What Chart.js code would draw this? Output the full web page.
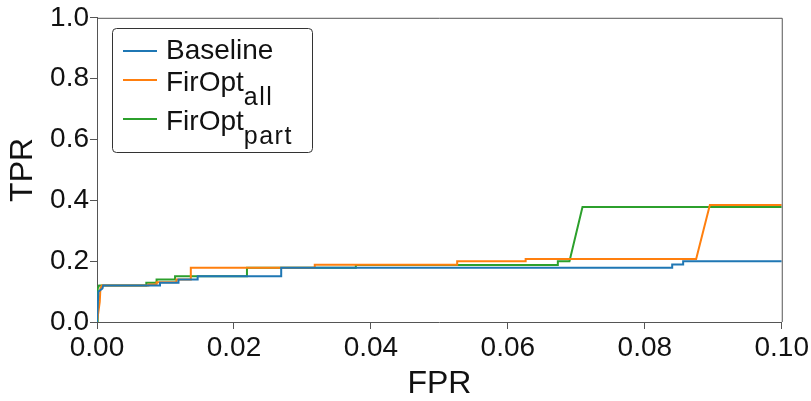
<!DOCTYPE html>
<html lang="en">
<head>
  <meta charset="UTF-8">
  <title>ROC (low FPR)</title>
  <style>
    html, body { margin: 0; padding: 0; background: #fff; }
    #wrap { width: 811px; height: 401px; }
  </style>
</head>
<body>
  <div id="wrap"><canvas id="roc" width="811" height="401"></canvas></div>
  <script src="https://cdn.jsdelivr.net/npm/chart.js"></script>
  <script>
    // ROC points, FPR / TPR per model
    const baselineFpr = [0, 0.0002, 0.0008, 0.0009, 0.0092, 0.0092, 0.0119, 0.0119, 0.0147, 0.0147, 0.0269, 0.0269, 0.0840, 0.0840, 0.0856, 0.0856, 0.1];
    const baselineTpr = [0, 0.10, 0.11, 0.12, 0.12, 0.129, 0.129, 0.14, 0.14, 0.15, 0.15, 0.178, 0.178, 0.189, 0.189, 0.20, 0.20];

    const allFpr = [0, 0.0004, 0.0005, 0.0007, 0.0075, 0.0075, 0.0087, 0.0087, 0.0116, 0.0116, 0.0137, 0.0137, 0.0318, 0.0318, 0.0526, 0.0526, 0.0626, 0.0626, 0.0875, 0.0895, 0.1];
    const allTpr = [0, 0.066, 0.11, 0.12, 0.12, 0.123, 0.123, 0.131, 0.131, 0.14, 0.14, 0.178, 0.178, 0.188, 0.188, 0.20, 0.20, 0.207, 0.207, 0.385, 0.385];

    const partFpr = [0, 0.0001, 0.0003, 0.0072, 0.0072, 0.0087, 0.0087, 0.0114, 0.0114, 0.0219, 0.0219, 0.0378, 0.0378, 0.0673, 0.0673, 0.0690, 0.0709, 0.1];
    const partTpr = [0, 0.11, 0.12, 0.12, 0.129, 0.129, 0.14, 0.14, 0.15, 0.15, 0.178, 0.178, 0.187, 0.187, 0.20, 0.20, 0.378, 0.378];

    const xTicks = [0, 0.02, 0.04, 0.06, 0.08, 0.10];
    const yTicks = [0, 0.2, 0.4, 0.6, 0.8, 1.0];

    const seriesNames = ['Baseline', 'FirOpt', 'FirOpt'];
    const seriesSubs = ['', 'all', 'part'];
    const seriesColors = ['#1f77b4', '#ff7f0e', '#2ca02c'];

    const toPoints = (xs, ys) => xs.map((x, i) => ({ x: x, y: ys[i] }));

    const FONT = '"Liberation Sans", Arial, sans-serif';

    // box around the plot + legend with subscripts
    const framePlugin = {
      id: 'frame',
      afterDraw(chart) {
        const ctx = chart.ctx;
        const a = chart.chartArea;
        ctx.save();
        ctx.strokeStyle = '#555';
        ctx.lineWidth = 1;
        ctx.beginPath();
        ctx.moveTo(a.left, a.top + 0.5);
        ctx.lineTo(a.right + 0.5, a.top + 0.5);
        ctx.lineTo(a.right + 0.5, a.bottom);
        ctx.stroke();

        // legend frame
        const bx = 112.5, by = 28.5, bw = 200, bh = 124, r = 4;
        ctx.fillStyle = 'rgba(255,255,255,0.85)';
        ctx.strokeStyle = '#333';
        ctx.beginPath();
        ctx.moveTo(bx + r, by);
        ctx.arcTo(bx + bw, by, bx + bw, by + bh, r);
        ctx.arcTo(bx + bw, by + bh, bx, by + bh, r);
        ctx.arcTo(bx, by + bh, bx, by, r);
        ctx.arcTo(bx, by, bx + bw, by, r);
        ctx.closePath();
        ctx.fill();
        ctx.stroke();

        const rowY = [51, 80, 119];
        const baseY = [59, 91, 130];
        for (let i = 0; i < seriesNames.length; i++) {
          ctx.strokeStyle = seriesColors[i];
          ctx.lineWidth = 2;
          ctx.beginPath();
          ctx.moveTo(123, rowY[i]);
          ctx.lineTo(157, rowY[i]);
          ctx.stroke();

          ctx.fillStyle = '#111';
          ctx.textBaseline = 'alphabetic';
          ctx.textAlign = 'left';
          ctx.font = '28px ' + FONT;
          ctx.letterSpacing = '0px';
          ctx.fillText(seriesNames[i], 166, baseY[i]);
          if (seriesSubs[i]) {
            const w = ctx.measureText(seriesNames[i]).width;
            ctx.font = '25px ' + FONT;
            ctx.letterSpacing = '1.5px';
            ctx.fillText(seriesSubs[i], 166 + w, baseY[i] + 14);
          }
        }
        ctx.restore();
      }
    };

    new Chart(document.getElementById('roc'), {
      type: 'line',
      data: {
        datasets: [
          { label: 'Baseline', data: toPoints(baselineFpr, baselineTpr), borderColor: seriesColors[0] },
          { label: 'FirOpt_all', data: toPoints(allFpr, allTpr), borderColor: seriesColors[1] },
          { label: 'FirOpt_part', data: toPoints(partFpr, partTpr), borderColor: seriesColors[2] }
        ]
      },
      options: {
        responsive: false,
        animation: false,
        parsing: false,
        layout: { padding: { top: 15, right: 29, left: 0, bottom: 0 } },
        elements: {
          point: { radius: 0 },
          line: { borderWidth: 2, tension: 0, fill: false }
        },
        plugins: {
          legend: { display: false },
          tooltip: { enabled: false }
        },
        scales: {
          x: {
            type: 'linear',
            min: 0,
            max: 0.1,
            afterBuildTicks: (s) => { s.ticks = xTicks.map(v => ({ value: v })); },
            afterFit: (s) => { s.height = 79; },
            ticks: {
              callback: (v) => v.toFixed(2),
              color: '#111',
              font: { family: FONT, size: 28 },
              padding: 2,
              maxRotation: 0,
              autoSkip: false
            },
            grid: { drawOnChartArea: false, tickLength: 7, color: '#555' },
            border: { color: '#555', width: 1 },
            title: {
              display: true,
              text: 'FPR',
              color: '#111',
              font: { family: FONT, size: 32 },
              padding: { top: 0, bottom: -2 }
            }
          },
          y: {
            type: 'linear',
            min: 0,
            max: 1,
            afterBuildTicks: (s) => { s.ticks = yTicks.map(v => ({ value: v })); },
            afterFit: (s) => { s.width = 97; },
            ticks: {
              callback: (v) => v.toFixed(1),
              color: '#111',
              font: { family: FONT, size: 28 },
              padding: 1,
              autoSkip: false
            },
            grid: { drawOnChartArea: false, tickLength: 7, color: '#555' },
            border: { color: '#555', width: 1 },
            title: {
              display: true,
              text: 'TPR',
              color: '#111',
              font: { family: FONT, size: 32 },
              padding: { top: 4, bottom: 0 }
            }
          }
        }
      },
      plugins: [framePlugin]
    });
  </script>
</body>
</html>
